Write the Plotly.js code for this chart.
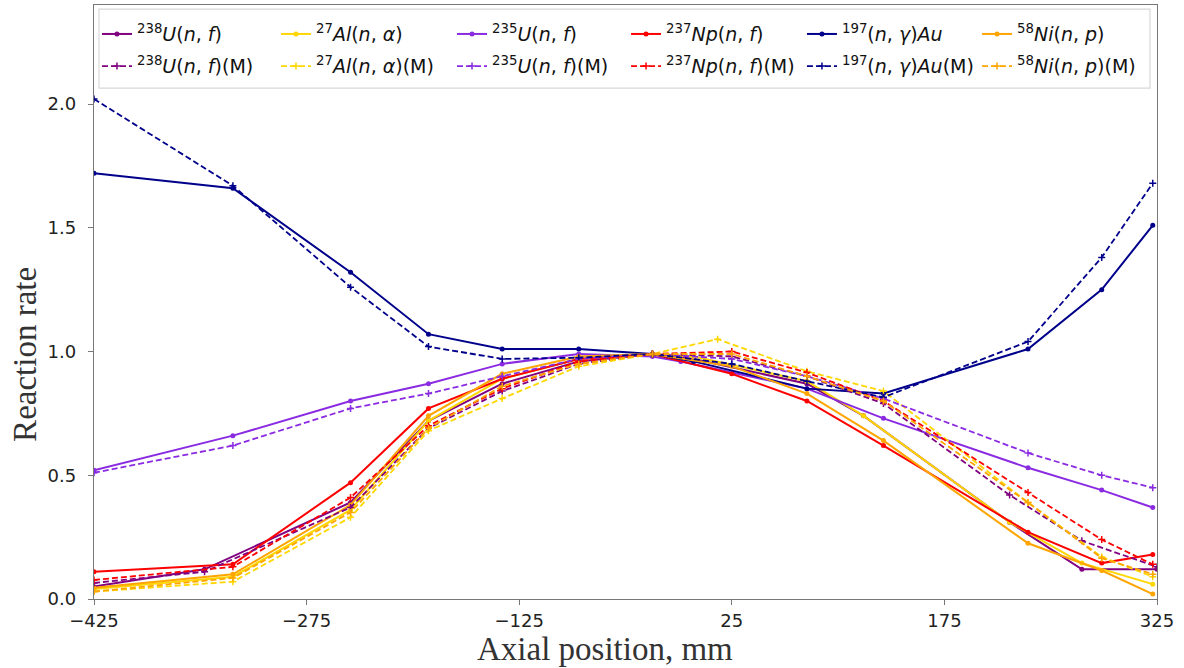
<!DOCTYPE html>
<html>
<head>
<meta charset="utf-8">
<script src="https://cdn.plot.ly/plotly-3.0.1.min.js"></script>
<style>html,body{margin:0;padding:0;background:#fff;} #chart{width:1184px;height:668px;}</style>
</head>
<body>
<div id="chart"></div>
<script>
// ---- Data (axial position in mm, normalised reaction rate) ----
const xU238   = [-425, -347, -244, -189, -137, -83, -31, -2, 78, 118, 221, 272, 325];
const yU238   = [0.05, 0.12, 0.39, 0.72, 0.87, 0.96, 0.99, 0.97, 0.87, 0.74, 0.31, 0.12, 0.12];
const xU238M  = [-425, -347, -244, -189, -137, -83, -31, 25, 78, 132, 221, 272, 325];
const yU238M  = [0.065, 0.11, 0.37, 0.69, 0.84, 0.95, 0.99, 0.98, 0.90, 0.79, 0.42, 0.235, 0.13];

const xAl     = [-425, -327, -244, -189, -137, -83, -31, -2, 78, 118, 221, 272, 322];
const yAl     = [0.04, 0.09, 0.36, 0.72, 0.89, 0.97, 0.99, 0.98, 0.88, 0.74, 0.31, 0.145, 0.06];
const xAlM    = [-425, -327, -244, -189, -137, -83, -31, 15, 78, 132, 234, 286, 322];
const yAlM    = [0.03, 0.07, 0.33, 0.68, 0.81, 0.94, 0.99, 1.05, 0.92, 0.84, 0.39, 0.17, 0.09];

const xU235   = [-425, -327, -244, -189, -137, -83, -31, -11, 78, 132, 234, 286, 322];
const yU235   = [0.52, 0.66, 0.80, 0.87, 0.95, 0.99, 0.98, 0.96, 0.85, 0.73, 0.53, 0.44, 0.37];
const xU235M  = [-425, -327, -244, -189, -137, -83, -31, 25, 78, 132, 234, 286, 322];
const yU235M  = [0.51, 0.62, 0.77, 0.83, 0.90, 0.97, 0.99, 0.97, 0.90, 0.81, 0.59, 0.50, 0.45];

const xNp     = [-425, -327, -244, -189, -137, -83, -31, 25, 78, 132, 234, 286, 322];
const yNp     = [0.11, 0.14, 0.47, 0.77, 0.89, 0.97, 0.99, 0.91, 0.80, 0.62, 0.27, 0.145, 0.18];
const xNpM    = [-425, -327, -244, -189, -137, -83, -31, 25, 78, 132, 234, 286, 322];
const yNpM    = [0.077, 0.13, 0.41, 0.70, 0.85, 0.96, 0.99, 1.00, 0.915, 0.80, 0.43, 0.24, 0.14];

const xAu     = [-425, -327, -244, -189, -137, -83, -31, -2, 78, 132, 234, 286, 322];
const yAu     = [1.72, 1.66, 1.32, 1.07, 1.01, 1.01, 0.99, 0.96, 0.85, 0.83, 1.01, 1.25, 1.51];
const xAuM    = [-425, -327, -244, -189, -137, -83, -31, 25, 78, 132, 234, 286, 322];
const yAuM    = [2.02, 1.67, 1.26, 1.02, 0.97, 0.975, 0.99, 0.95, 0.88, 0.815, 1.04, 1.38, 1.68];

const xNi     = [-425, -327, -244, -189, -137, -83, -31, 25, 78, 132, 234, 286, 322];
const yNi     = [0.045, 0.10, 0.38, 0.74, 0.91, 0.98, 0.99, 0.94, 0.83, 0.64, 0.225, 0.115, 0.02];
const xNiM    = [-425, -327, -244, -189, -137, -83, -31, 25, 78, 132, 234, 286, 322];
const yNiM    = [0.03, 0.085, 0.35, 0.69, 0.86, 0.95, 0.99, 0.99, 0.90, 0.80, 0.39, 0.165, 0.10];

const xTicks = [-425, -275, -125, 25, 175, 325];
const xTickText = ['\u2212425', '\u2212275', '\u2212125', '25', '175', '325'];
const yTicks = [0, 0.5, 1.0, 1.5, 2.0];
const yTickText = ['0.0', '0.5', '1.0', '1.5', '2.0'];

const names = [
  '<sup>238</sup><i>U</i>(<i>n</i>, <i>f</i>)',
  '<sup>27</sup><i>Al</i>(<i>n</i>, <i>\u03b1</i>)',
  '<sup>235</sup><i>U</i>(<i>n</i>, <i>f</i>)',
  '<sup>237</sup><i>Np</i>(<i>n</i>, <i>f</i>)',
  '<sup>197</sup>(<i>n</i>, <i>\u03b3</i>)<i>Au</i>',
  '<sup>58</sup><i>Ni</i>(<i>n</i>, <i>p</i>)'
];
const colors = ['#800080', '#FFD700', '#8A2BE2', '#FF0000', '#00008B', '#FFA500'];

const solidX = [xU238, xAl, xU235, xNp, xAu, xNi];
const solidY = [yU238, yAl, yU235, yNp, yAu, yNi];
const measX  = [xU238M, xAlM, xU235M, xNpM, xAuM, xNiM];
const measY  = [yU238M, yAlM, yU235M, yNpM, yAuM, yNiM];

// legend column positions (paper fraction) and row positions
const legendColX = [0.0028, 0.1712, 0.3368, 0.5005, 0.6660, 0.8307];
const legendRowY = [0.951, 0.897];

function legendKey(n) { return n === 1 ? 'legend' : 'legend' + n; }

const traces = [];
for (let i = 0; i < 6; i++) {
  traces.push({
    x: solidX[i], y: solidY[i], type: 'scatter', mode: 'lines+markers',
    name: names[i], legend: legendKey(i + 1),
    line: {color: colors[i], width: 2},
    marker: {color: colors[i], size: 5, symbol: 'circle'}
  });
}
for (let i = 0; i < 6; i++) {
  traces.push({
    x: measX[i], y: measY[i], type: 'scatter', mode: 'lines+markers',
    name: names[i] + '(M)', legend: legendKey(i + 7),
    line: {color: colors[i], width: 1.8, dash: '6px,3px'},
    marker: {color: colors[i], size: 5, symbol: 'cross-thin', line: {color: colors[i], width: 1.5}}
  });
}

const layout = {
  width: 1184, height: 668,
  margin: {l: 94, r: 27, t: 5, b: 69},
  paper_bgcolor: '#fff', plot_bgcolor: '#fff',
  showlegend: true,
  xaxis: {
    range: [-425, 325], tickvals: xTicks, ticktext: xTickText,
    showgrid: false, zeroline: false, showline: true, mirror: true,
    linecolor: '#777', linewidth: 1.2, ticks: 'outside', ticklen: 5, tickcolor: '#777',
    tickfont: {family: 'DejaVu Sans', size: 18, color: '#222'}
  },
  yaxis: {
    range: [0, 2.4], tickvals: yTicks, ticktext: yTickText,
    showgrid: false, zeroline: false, showline: true, mirror: true,
    linecolor: '#777', linewidth: 1.2, ticks: 'outside', ticklen: 5, tickcolor: '#777',
    ticklabelstandoff: 8,
    tickfont: {family: 'DejaVu Sans', size: 18, color: '#222'}
  },
  annotations: [
    {text: 'Axial position, mm', xref: 'paper', yref: 'paper', x: 0.4807, y: -0.0835,
     xanchor: 'center', yanchor: 'middle', showarrow: false,
     font: {family: 'Liberation Serif', size: 33, color: '#333'}},
    {text: 'Reaction rate', xref: 'paper', yref: 'paper', x: -0.0649, y: 0.411,
     xanchor: 'center', yanchor: 'middle', showarrow: false, textangle: -90,
     font: {family: 'Liberation Serif', size: 33, color: '#333'}}
  ],
  shapes: [{
    type: 'rect', xref: 'paper', yref: 'paper', layer: 'above',
    x0: 0.0047, x1: 0.9934, y0: 0.860, y1: 0.993,
    line: {color: '#d8d8d8', width: 1.2}, fillcolor: 'rgba(255,255,255,0)'
  }]
};

for (let k = 0; k < 12; k++) {
  layout[legendKey(k + 1)] = {
    orientation: 'h', xref: 'paper', yref: 'paper', xanchor: 'left', yanchor: 'middle',
    x: legendColX[k % 6], y: legendRowY[Math.floor(k / 6)],
    bgcolor: 'rgba(0,0,0,0)', borderwidth: 0,
    font: {family: 'DejaVu Sans', size: 19, color: '#111'}
  };
}

Plotly.newPlot('chart', traces, layout, {displayModeBar: false, staticPlot: true});
</script>
</body>
</html>
